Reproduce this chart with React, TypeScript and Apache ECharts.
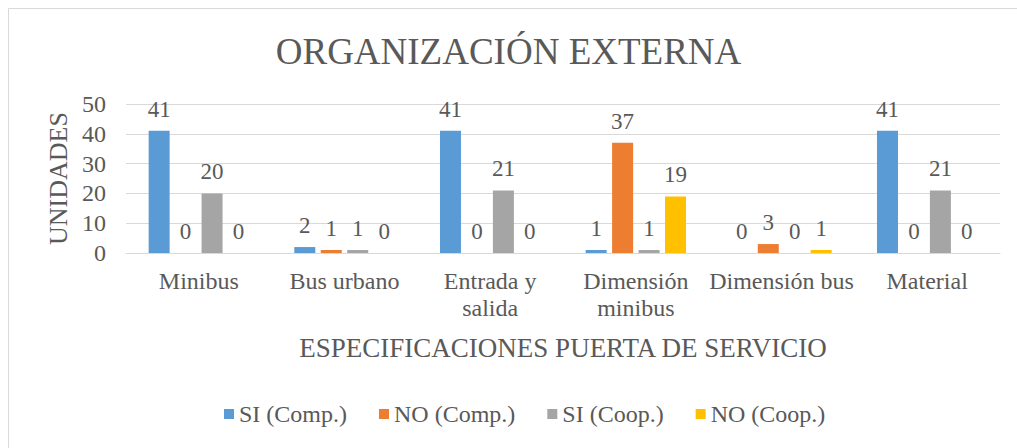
import React, { useEffect, useRef } from "react";
import * as echarts from "echarts";

const categories = ["Minibus", "Bus urbano", "Entrada y\nsalida", "Dimensión\nminibus", "Dimensión bus", "Material"];
const siComp = [41, 2, 41, 1, 0, 41];
const noComp = [0, 1, 0, 37, 3, 0];
const siCoop = [20, 1, 21, 1, 0, 21];
const noCoop = [0, 0, 0, 19, 1, 0];
const seriesNames = ["SI (Comp.)", "NO (Comp.)", "SI (Coop.)", "NO (Coop.)"];
const colors = ["#5b9bd5", "#ed7d31", "#a5a5a5", "#ffc000"];

const FONT = "Liberation Serif";
const TXT = "#595959";

export default function App() {
  const ref = useRef<HTMLDivElement>(null);
  useEffect(() => {
    document.body.style.margin = "0";
    const chart = echarts.init(ref.current!, null, { renderer: "svg" });
    const data = [siComp, noComp, siCoop, noCoop];
    chart.setOption({
      animation: false,
      backgroundColor: "#ffffff",
      textStyle: { fontFamily: FONT, color: TXT },
      title: {
        text: "ORGANIZACIÓN EXTERNA",
        left: "center",
        top: 28,
        textStyle: { fontFamily: FONT, fontSize: 37, fontWeight: "normal", color: TXT },
      },
      legend: {
        top: 397,
        left: 219,
        itemWidth: 10,
        itemHeight: 10,
        itemGap: 32,
        icon: "rect",
        textStyle: { fontFamily: FONT, fontSize: 24, color: TXT },
        data: seriesNames,
      },
      grid: { left: 126, right: 17, top: 104, bottom: 195, containLabel: false },
      xAxis: {
        type: "category",
        data: categories,
        name: "ESPECIFICACIONES PUERTA DE SERVICIO",
        nameLocation: "middle",
        nameGap: 81,
        nameTextStyle: { fontFamily: FONT, fontSize: 27, color: TXT },
        axisLine: { lineStyle: { color: "#d9d9d9" } },
        axisTick: { show: false },
        axisLabel: { fontFamily: FONT, fontSize: 24, color: TXT, margin: 14, lineHeight: 27, interval: 0 },
      },
      yAxis: {
        type: "value",
        min: 0,
        max: 50,
        interval: 10,
        name: "UNIDADES",
        nameLocation: "middle",
        nameGap: 54,
        nameRotate: 90,
        nameTextStyle: { fontFamily: FONT, fontSize: 26, color: TXT },
        axisLabel: { fontFamily: FONT, fontSize: 24, color: TXT, margin: 20 },
        splitLine: { lineStyle: { color: "#d9d9d9" } },
        axisLine: { show: false },
        axisTick: { show: false },
      },
      series: seriesNames.map((name, i) => ({
        name,
        type: "bar",
        data: data[i],
        barWidth: 21,
        barGap: "26%",
        itemStyle: { color: colors[i] },
        label: {
          show: true,
          position: "top",
          distance: 10,
          fontFamily: FONT,
          fontSize: 23,
          color: TXT,
        },
      })),
      graphic: [
        {
          type: "polyline",
          shape: { points: [[8.5, 448], [8.5, 8.5], [1017, 8.5]] },
          style: { fill: "none", stroke: "#d9d9d9", lineWidth: 1 },
          silent: true,
        },
      ],
    });
    return () => chart.dispose();
  }, []);
  return <div ref={ref} style={{ position: "absolute", left: 0, top: 0, width: 1017, height: 448 }} />;
}
